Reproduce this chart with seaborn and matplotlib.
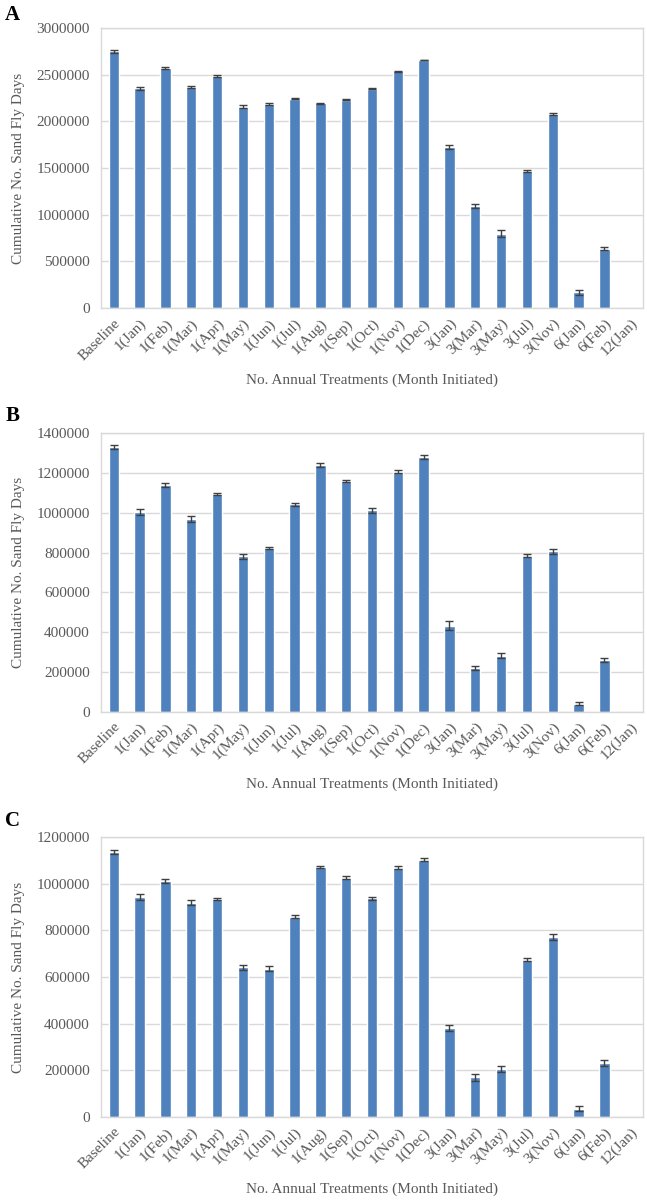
import pandas as pd
import matplotlib.pyplot as plt
import seaborn as sns
import numpy as np

categories = ["Baseline", "1(Jan)", "1(Feb)", "1(Mar)", "1(Apr)", "1(May)", "1(Jun)",
              "1(Jul)", "1(Aug)", "1(Sep)", "1(Oct)", "1(Nov)", "1(Dec)", "3(Jan)",
              "3(Mar)", "3(May)", "3(Jul)", "3(Nov)", "6(Jan)", "6(Feb)", "12(Jan)"]

# Panel A
values_a = [2750000, 2355000, 2572000, 2368000, 2489000, 2156000, 2183000, 2244000,
            2194000, 2232000, 2352000, 2535000, 2658000, 1730000, 1092000, 795000,
            1466000, 2080000, 170000, 638000, 0]
errors_a = [12000, 15000, 12000, 15000, 8000, 15000, 10000, 7000, 7000, 7000, 8000,
            7000, 5000, 22000, 20000, 38000, 12000, 15000, 28000, 20000, 0]

# Panel B
values_b = [1329000, 1004000, 1138000, 969000, 1093000, 782000, 824000, 1042000,
            1239000, 1159000, 1012000, 1206000, 1279000, 433000, 219000, 283000,
            785000, 806000, 42000, 263000, 0]
errors_b = [9000, 14000, 10000, 14000, 5000, 13000, 5000, 8000, 10000, 7000, 12000,
            8000, 8000, 24000, 10000, 12000, 6000, 14000, 8000, 10000, 0]

# Panel C
values_c = [1136000, 943000, 1012000, 918000, 934000, 641000, 636000, 858000,
            1071000, 1026000, 938000, 1069000, 1102000, 381000, 170000, 206000,
            674000, 771000, 36000, 232000, 0]
errors_c = [9000, 11000, 8000, 11000, 5000, 12000, 9000, 6000, 6000, 7000, 6000,
            6000, 7000, 12000, 16000, 12000, 6000, 13000, 10000, 13000, 0]

panels = [
    ("A", values_a, errors_a, 3000000, 500000),
    ("B", values_b, errors_b, 1400000, 200000),
    ("C", values_c, errors_c, 1200000, 200000),
]

sns.set_theme(style="white")
plt.rcParams["font.family"] = ["Liberation Serif", "DejaVu Serif"]

text_color = "#595959"
bar_color = "#4F81BD"
grid_color = "#D9D9D9"

fig = plt.figure(figsize=(6.47, 12), dpi=100)

# axes positions in figure fractions (left, bottom, width, height)
positions = [
    (0.156, 0.7433, 0.838, 0.2333),
    (0.156, 0.4067, 0.838, 0.2325),
    (0.156, 0.0692, 0.838, 0.2333),
]
letter_y = [1 - 15 / 1200, 1 - 416 / 1200, 1 - 821 / 1200]

for (letter, vals, errs, ymax, step), pos, ly in zip(panels, positions, letter_y):
    ax = fig.add_axes(pos)
    df = pd.DataFrame({"treatment": categories, "days": vals, "err": errs})
    sns.barplot(data=df, x="treatment", y="days", color=bar_color, saturation=1,
                width=0.4, ax=ax, zorder=2)
    # error bars only where a bar exists
    shown = df[df["days"] > 0]
    ax.errorbar(shown.index.to_numpy(), shown["days"], yerr=shown["err"], fmt="none",
                ecolor="#404040", elinewidth=1, capsize=3, capthick=1, zorder=3)
    ax.set_ylim(0, ymax)
    ax.set_xlim(-0.5, len(categories) - 0.5)
    ticks = np.arange(0, ymax + 1, step)
    ax.set_yticks(ticks)
    ax.set_yticklabels([str(int(t)) for t in ticks])
    ax.yaxis.grid(True, color=grid_color, linewidth=1)
    ax.set_axisbelow(True)
    for sp in ax.spines.values():
        sp.set_color(grid_color)
        sp.set_linewidth(1)
    ax.tick_params(axis="both", length=0, colors=text_color, labelsize=11)
    ax.tick_params(axis="y", pad=8)
    ax.tick_params(axis="x", pad=6)
    plt.setp(ax.get_xticklabels(), rotation=45, ha="right", rotation_mode="anchor")
    ax.set_ylabel("Cumulative No. Sand Fly Days", color=text_color, fontsize=11,
                  labelpad=8)
    ax.set_xlabel("No. Annual Treatments (Month Initiated)", color=text_color,
                  fontsize=11, labelpad=8)
    fig.text(0.008, ly, letter, fontsize=15, fontweight="bold", color="black",
             va="center", ha="left")

fig.savefig("out.png", dpi=100)
plt.close()
